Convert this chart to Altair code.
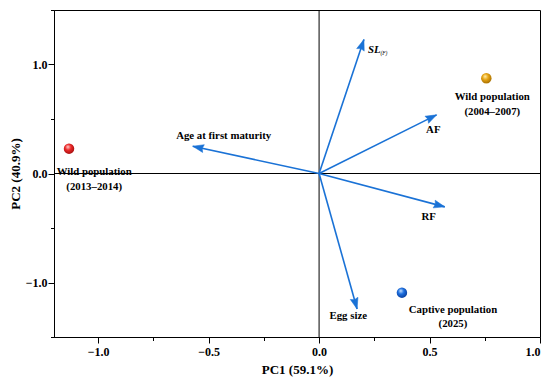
import altair as alt
import pandas as pd

# Populations (scores)
pop_names = ["Wild population\n(2013–2014)", "Wild population\n(2004–2007)", "Captive population\n(2025)"]
pop_pc1 = [-1.132, 0.757, 0.375]
pop_pc2 = [0.228, 0.874, -1.093]
pop_label_pc1 = [-1.018, 0.784, 0.606]
pop_label_pc2 = [0.012, 0.70, -1.25]

# Variables (loadings)
var_names = ["SL", "AF", "Age at first maturity", "RF", "Egg size"]
var_pc1 = [0.203, 0.532, -0.572, 0.569, 0.172]
var_pc2 = [1.23, 0.538, 0.25, -0.306, -1.243]
var_label_pc1 = [0.221, 0.517, -0.432, 0.496, 0.132]
var_label_pc2 = [1.135, 0.399, 0.342, -0.396, -1.306]

x_ticks = [-1.0, -0.75, -0.5, -0.25, 0.0, 0.25, 0.5, 0.75, 1.0]
y_ticks = [-1.5, -1.0, -0.5, 0.0, 0.5, 1.0, 1.5]

W, H = 486, 327
XD, YD = [-1.2, 1.0], [-1.5, 1.5]
SX = W / (XD[1] - XD[0])
SY = H / (YD[1] - YD[0])

pops = pd.DataFrame({"name": pop_names, "pc1": pop_pc1, "pc2": pop_pc2,
                     "lx": pop_label_pc1, "ly": pop_label_pc2})
vars_ = pd.DataFrame({"name": var_names, "pc1": var_pc1, "pc2": var_pc2,
                      "lx": var_label_pc1, "ly": var_label_pc2})

FONT = "Liberation Serif"
ARROW = "#1a72d6"

major_x = "abs(datum.value*2 - round(datum.value*2)) < 0.001"
major_y = "abs(datum.value - round(datum.value)) < 0.001"

xscale = alt.Scale(domain=XD, nice=False, zero=False)
yscale = alt.Scale(domain=YD, nice=False, zero=False)

xenc = alt.X("pc1:Q", scale=xscale, title="PC1 (59.1%)",
             axis=alt.Axis(values=x_ticks, grid=False,
                           labelExpr=f"{major_x} ? replace(format(datum.value, '.1f'), '-', '−') : ''",
                           tickSize={"condition": {"test": major_x, "value": 6}, "value": 3.5},
                           labelPadding=3, titlePadding=6))
yenc = alt.Y("pc2:Q", scale=yscale, title="PC2 (40.9%)",
             axis=alt.Axis(values=y_ticks, grid=False,
                           labelExpr=f"{major_y} ? replace(format(datum.value, '.1f'), '-', '−') : ''",
                           tickSize={"condition": {"test": major_y, "value": 6}, "value": 3.5},
                           labelPadding=1, titlePadding=3))

zero_df = pd.DataFrame({"v": [0.0]})
vzero = alt.Chart(zero_df).mark_rule(color="black", strokeWidth=1).encode(
    x=alt.X("v:Q", scale=xscale))
hzero = alt.Chart(zero_df).mark_rule(color="black", strokeWidth=1).encode(
    y=alt.Y("v:Q", scale=yscale))

base_v = alt.Chart(vars_).transform_calculate(x0="0", y0="0")
shafts = base_v.mark_rule(color=ARROW, strokeWidth=1.6).encode(
    x=xenc, y=yenc, x2="x0:Q", y2="y0:Q")
heads = alt.Chart(vars_).transform_calculate(
    ang=f"(atan2(datum.pc1*{SX}, datum.pc2*{SY})*180/PI + 360) % 360"
).mark_point(shape="M0,0L-0.36,1L0,0.88L0.36,1Z", filled=True, fill=ARROW,
             stroke=ARROW, strokeWidth=0.5, opacity=1, size=484).encode(
    x=xenc, y=yenc, angle=alt.Angle("ang:Q", scale=None))

var_text = alt.Chart(vars_).transform_filter("datum.name != 'SL'").mark_text(
    font=FONT, fontWeight="bold", fontSize=10.8, color="black", align="center", baseline="middle"
).encode(x=alt.X("lx:Q", scale=xscale), y=alt.Y("ly:Q", scale=yscale), text="name:N")
sl_text = alt.Chart(vars_).transform_filter("datum.name == 'SL'").mark_text(
    font=FONT, fontWeight="bold", fontStyle="italic", fontSize=10.8, color="black",
    align="left", baseline="middle"
).encode(x=alt.X("lx:Q", scale=xscale), y=alt.Y("ly:Q", scale=yscale), text="name:N")
sl_sub = alt.Chart(vars_).transform_filter("datum.name == 'SL'").transform_calculate(
    sub="'(F)'").mark_text(
    font=FONT, fontStyle="italic", fontSize=5.5, color="black",
    align="left", baseline="middle", dx=12.5, dy=3
).encode(x=alt.X("lx:Q", scale=xscale), y=alt.Y("ly:Q", scale=yscale), text="sub:N")

sphere_colors = {
    "Wild population\n(2013–2014)": ("#ffd6d6", "#ee2a2a", "#a00d0d"),
    "Wild population\n(2004–2007)": ("#fff0b0", "#e8a514", "#a06a00"),
    "Captive population\n(2025)": ("#cfe6ff", "#1c6fe0", "#0a3d99"),
}
spheres = []
for nm, (c0, c1, c2) in sphere_colors.items():
    grad = alt.RadialGradient(
        gradient="radial",
        stops=[alt.GradientStop(color=c0, offset=0), alt.GradientStop(color=c1, offset=0.45),
               alt.GradientStop(color=c2, offset=1)],
        x1=0.38, y1=0.32, r1=0.0, x2=0.45, y2=0.42, r2=0.62)
    spheres.append(
        alt.Chart(pops).transform_filter(alt.FieldEqualPredicate(field="name", equal=nm))
        .mark_point(shape="circle", filled=True, fill=grad, opacity=1, size=110, strokeWidth=0)
        .encode(x=xenc, y=yenc))

pop_text = alt.Chart(pops).mark_text(
    font=FONT, fontWeight="bold", fontSize=10.8, color="black", align="center",
    baseline="middle", lineBreak="\n", lineHeight=14.5
).encode(x=alt.X("lx:Q", scale=xscale), y=alt.Y("ly:Q", scale=yscale), text="name:N")

chart = alt.layer(
    vzero, hzero, shafts, heads, var_text, sl_text, sl_sub, *spheres, pop_text
).properties(
    width=W, height=H, autosize="none",
    padding={"left": 46, "top": 2, "right": 2, "bottom": 44}
).configure_view(
    stroke="black", strokeWidth=1
).configure_axis(
    labelFont=FONT, titleFont=FONT, labelFontWeight="bold", titleFontWeight="bold",
    labelFontSize=12, titleFontSize=13, labelColor="black", titleColor="black",
    tickColor="black", domainColor="black", domainWidth=1, tickWidth=1
)

chart.save("out.html", embed_options={"renderer": "svg", "actions": False})
